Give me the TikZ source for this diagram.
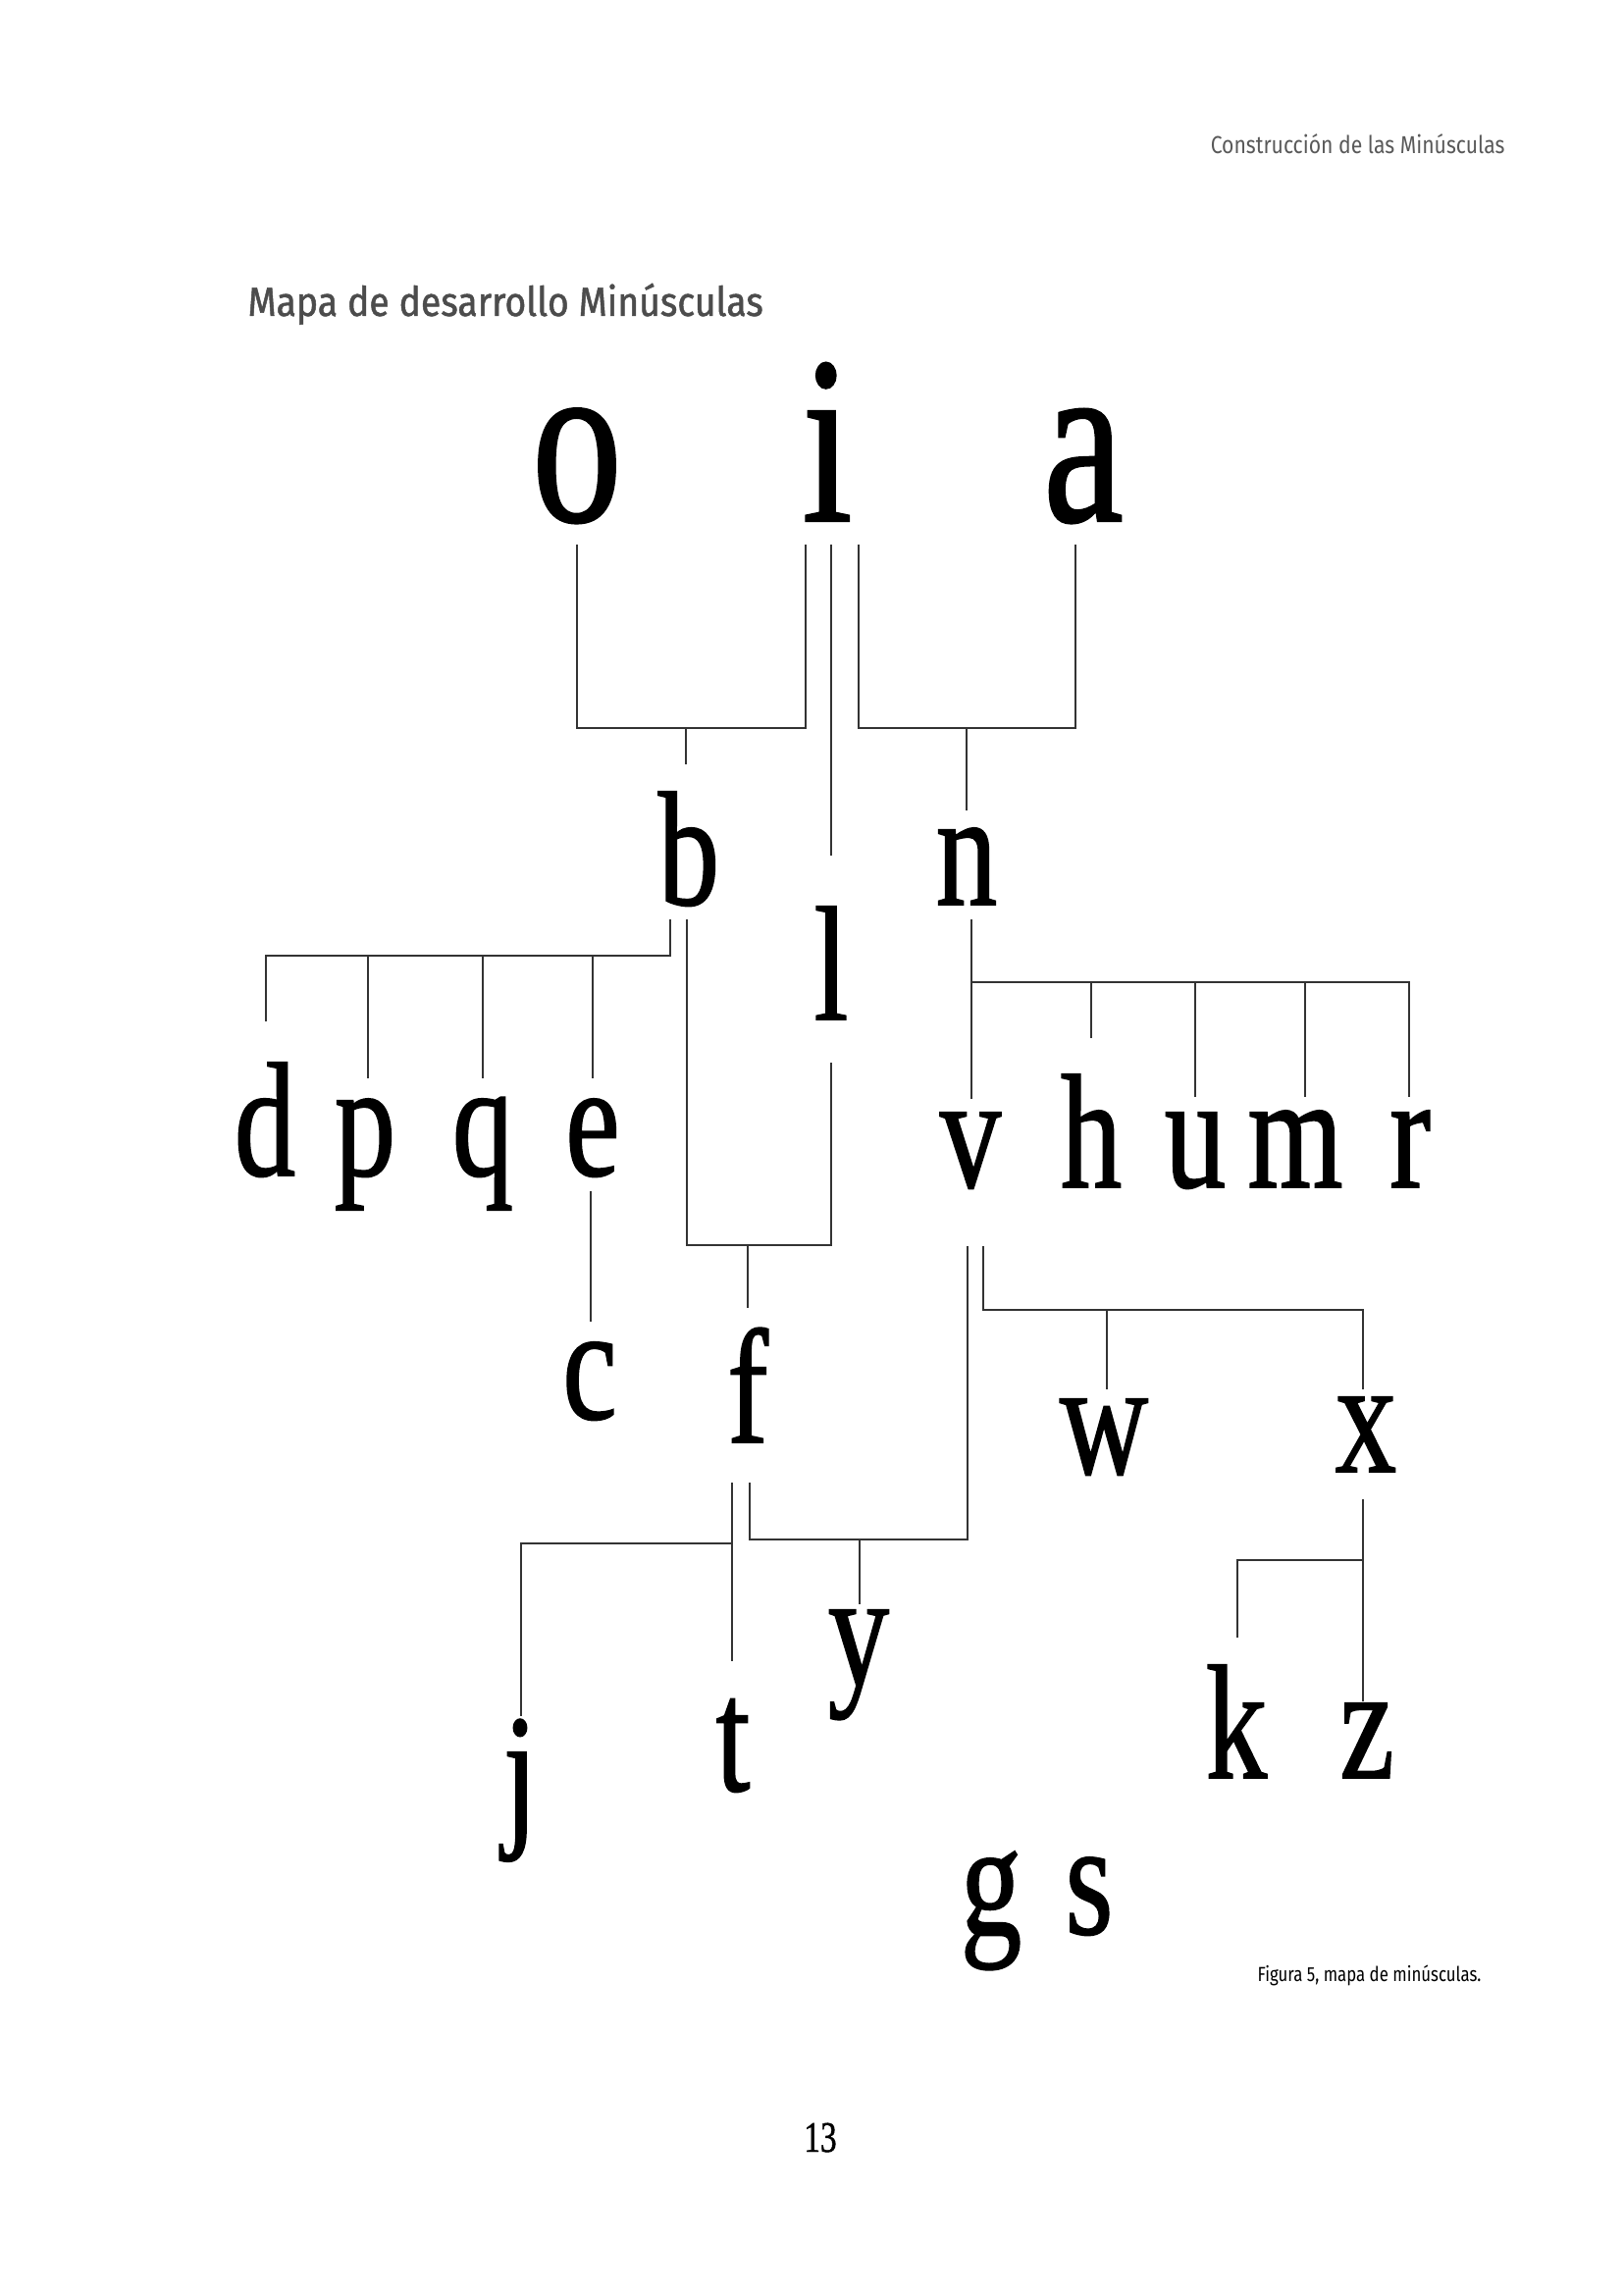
\documentclass[tikz,border=0pt]{standalone}
\usepackage{fontspec}
\setmainfont{Liberation Serif}
\newfontfamily\glyphfont[FakeStretch=0.75, FakeBold=1]{Liberation Serif}
\newfontfamily\labelfont[FakeStretch=0.85]{Fira Sans}
\newfontfamily\titlefont[FakeStretch=0.9, FakeBold=1.2]{Fira Sans}
\newfontfamily\notefont[FakeStretch=0.81]{Fira Sans}

\begin{document}
\begin{tikzpicture}[x=0.127mm, y=-0.127mm,
    link/.style={draw=black!80, line width=1pt},
    letter/.style={anchor=base, inner sep=0pt, font=\glyphfont\fontsize{60}{60}\selectfont},
    bigletter/.style={letter, font=\glyphfont\fontsize{88}{88}\selectfont}]
    \useasboundingbox (0,0) rectangle (1654,2339);

    % page texts
    \node[anchor=base east, inner sep=0pt, text=black!65, font=\labelfont\fontsize{9}{11}\selectfont] (head) at (1534,157) {Construcción de las Minúsculas};
    \node[anchor=base west, inner sep=0pt, text=black!70, font=\titlefont\fontsize{15}{18}\selectfont] (title) at (252,322) {Mapa de desarrollo Minúsculas};
    \node[anchor=base west, inner sep=0pt, font=\notefont\fontsize{7.5}{9}\selectfont] (caption) at (1281,2019) {Figura 5, mapa de minúsculas.};
    \node[anchor=base, inner sep=0pt, font=\glyphfont\fontsize{16}{16}\selectfont] (page) at (836,2193) {13};

    % letters
    \node[bigletter] (o) at (588,531) {o};
    \node[bigletter] (i) at (843,531) {i};
    \node[bigletter] (a) at (1104,531) {a};

    \node[letter] (b) at (702,922) {b};
    \node[letter] (l) at (847,1039) {l};
    \node[letter] (n) at (985,922) {n};

    \node[letter] (d) at (270,1198) {d};
    \node[letter] (p) at (372,1198) {p};
    \node[letter] (q) at (492,1198) {q};
    \node[letter] (e) at (604,1198) {e};
    \node[letter] (v) at (989,1210) {v};
    \node[letter] (h) at (1112,1210) {h};
    \node[letter] (u) at (1218,1210) {u};
    \node[letter] (m) at (1320,1210) {m};
    \node[letter] (r) at (1437,1210) {r};

    \node[letter] (c) at (601,1446) {c};
    \node[letter] (f) at (762,1470) {f};
    \node[letter] (w) at (1125,1502) {w};
    \node[letter] (x) at (1392,1500) {x};

    \node[letter] (y) at (875,1717) {y};
    \node[letter] (t) at (747,1825) {t};
    \node[letter] (j) at (530,1862) {j};
    \node[letter] (k) at (1260,1812) {k};
    \node[letter] (z) at (1393,1812) {z};
    \node[letter] (g) at (1010,1972) {g};
    \node[letter] (s) at (1110,1971) {s};

    % line ends
    \coordinate (o1) at (588,555);
    \coordinate (i1) at (821,555);
    \coordinate (i2) at (847,555);
    \coordinate (i3) at (875,555);
    \coordinate (a1) at (1096,555);
    \coordinate (ob) at (699,742);
    \coordinate (an) at (985,742);
    \coordinate (b1) at (699,779);
    \coordinate (l1) at (847,872);
    \coordinate (n1) at (985,826);

    \coordinate (b2) at (683,937);
    \coordinate (b3) at (700,937);
    \coordinate (bar) at (271,974);
    \coordinate (d1) at (271,1041);
    \coordinate (p1) at (375,1099);
    \coordinate (q1) at (492,1099);
    \coordinate (e1) at (604,1099);
    \coordinate (l2) at (847,1083);
    \coordinate (bf) at (762,1269);
    \coordinate (f1) at (762,1333);

    \coordinate (n2) at (990,937);
    \coordinate (nbar) at (990,1001);
    \coordinate (v1) at (990,1120);
    \coordinate (h1) at (1112,1058);
    \coordinate (u1) at (1218,1118);
    \coordinate (m1) at (1330,1118);
    \coordinate (r1) at (1436,1118);

    \coordinate (e2) at (602,1214);
    \coordinate (c1) at (602,1347);

    \coordinate (v2) at (986,1270);
    \coordinate (v3) at (1002,1270);
    \coordinate (f2) at (764,1511);
    \coordinate (f3) at (746,1511);
    \coordinate (vy) at (876,1569);
    \coordinate (y1) at (876,1635);
    \coordinate (vw) at (1128,1335);
    \coordinate (w1) at (1128,1416);
    \coordinate (x1) at (1389,1416);

    \coordinate (fj) at (746,1573);
    \coordinate (t1) at (746,1693);
    \coordinate (j1) at (531,1749);
    \coordinate (x2) at (1389,1528);
    \coordinate (xk) at (1389,1590);
    \coordinate (k1) at (1261,1669);
    \coordinate (z1) at (1389,1734);

    % connectors
    \draw[link] (o1) |- (ob) -| (i1);
    \draw[link] (ob) -- (b1);
    \draw[link] (i2) -- (l1);
    \draw[link] (i3) |- (an) -| (a1);
    \draw[link] (an) -- (n1);

    \draw[link] (b2) |- (bar) -- (d1);
    \foreach \s in {p1,q1,e1}
        \draw[link] (\s |- bar) -- (\s);
    \draw[link] (b3) |- (bf) -| (l2);
    \draw[link] (bf) -- (f1);

    \draw[link] (n2) -- (v1);
    \draw[link] (nbar) -| (r1);
    \foreach \s in {h1,u1,m1}
        \draw[link] (\s |- nbar) -- (\s);

    \draw[link] (e2) -- (c1);
    \draw[link] (v2) |- (vy) -| (f2);
    \draw[link] (vy) -- (y1);
    \draw[link] (v3) |- (vw) -| (x1);
    \draw[link] (vw) -- (w1);

    \draw[link] (f3) -- (t1);
    \draw[link] (fj) -| (j1);
    \draw[link] (x2) -- (z1);
    \draw[link] (xk) -| (k1);
\end{tikzpicture}
\end{document}
